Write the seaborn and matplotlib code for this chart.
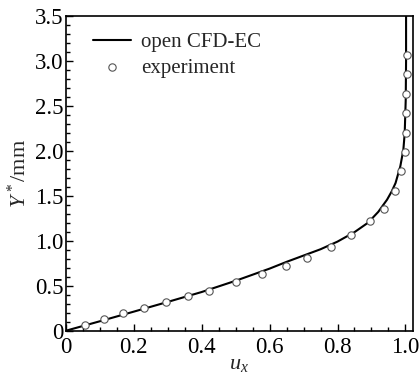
import numpy as np
import pandas as pd
import matplotlib
matplotlib.use("Agg")
import matplotlib.pyplot as plt
from matplotlib.ticker import MultipleLocator, FuncFormatter
import seaborn as sns

# --- data ---
sim_ux = [0.0, 0.1, 0.2, 0.3, 0.4, 0.5, 0.6, 0.65, 0.7, 0.75, 0.8, 0.85, 0.89,
          0.92, 0.946, 0.96, 0.971, 0.985, 0.994, 0.998, 1.001, 1.002, 1.002]
sim_y = [0.0, 0.105, 0.212, 0.32, 0.43, 0.555, 0.69, 0.765, 0.835, 0.905, 0.99,
         1.095, 1.2, 1.32, 1.456, 1.55, 1.641, 1.826, 2.01, 2.196, 2.567, 3.0, 3.5]

exp_ux = [0.056, 0.112, 0.169, 0.230, 0.295, 0.361, 0.420, 0.501, 0.579, 0.648,
          0.711, 0.780, 0.840, 0.895, 0.937, 0.968, 0.988, 0.998, 1.002, 1.003,
          1.003, 1.004, 1.004]
exp_y = [0.067, 0.130, 0.197, 0.252, 0.315, 0.381, 0.444, 0.537, 0.626, 0.718,
         0.811, 0.933, 1.059, 1.22, 1.352, 1.556, 1.77, 1.985, 2.196, 2.419,
         2.633, 2.856, 3.067]

sim_label = "open CFD-EC"
exp_label = "experiment"

sim = pd.DataFrame({"ux": sim_ux, "y": sim_y})
exp = pd.DataFrame({"ux": exp_ux, "y": exp_y})

sns.set_style("ticks")
plt.rcParams["font.family"] = ["Liberation Serif", "DejaVu Serif"]
plt.rcParams["mathtext.fontset"] = "custom"
plt.rcParams["mathtext.it"] = "Liberation Serif:italic"
plt.rcParams["mathtext.rm"] = "Liberation Serif"

fig = plt.figure(figsize=(4.2, 3.73), dpi=100)
ax = fig.add_axes([0.157, 0.1134, 0.826, 0.8445])

sns.lineplot(data=sim, x="ux", y="y", sort=False, estimator=None, ax=ax,
             color="black", linewidth=1.5, label=sim_label)
sns.scatterplot(data=exp, x="ux", y="y", ax=ax, marker="o", s=28,
                facecolor="white", edgecolor="#555555", linewidth=0.8,
                label=exp_label, zorder=3)

ax.set_xlim(0, 1.022)
ax.set_ylim(0, 3.5)
ax.xaxis.set_major_locator(MultipleLocator(0.2))
ax.xaxis.set_minor_locator(MultipleLocator(0.05))
ax.yaxis.set_major_locator(MultipleLocator(0.5))
ax.yaxis.set_minor_locator(MultipleLocator(0.1))
fmt = FuncFormatter(lambda v, p: "0" if abs(v) < 1e-9 else f"{v:.1f}")
ax.xaxis.set_major_formatter(fmt)
ax.yaxis.set_major_formatter(fmt)

ax.tick_params(which="both", direction="in", top=False, right=False,
               labelsize=16.5, width=1.0, colors="black")
ax.tick_params(which="major", length=5)
ax.tick_params(axis="x", which="major", pad=4.5)
ax.tick_params(axis="y", which="major", pad=2)
ax.tick_params(which="minor", length=3)
for sp in ax.spines.values():
    sp.set_linewidth(1.2)
    sp.set_color("black")

ax.set_xlabel(r"$u_x$", fontsize=16, labelpad=-2)
ax.set_ylabel(r"$Y^*$/mm", fontsize=16, labelpad=3)

leg = ax.legend(loc="upper left", frameon=False, fontsize=15,
                handlelength=1.8, borderaxespad=0.4, labelspacing=0.3,
                handletextpad=0.5, bbox_to_anchor=(0.03, 1.0))

fig.savefig("out.png", dpi=100)
